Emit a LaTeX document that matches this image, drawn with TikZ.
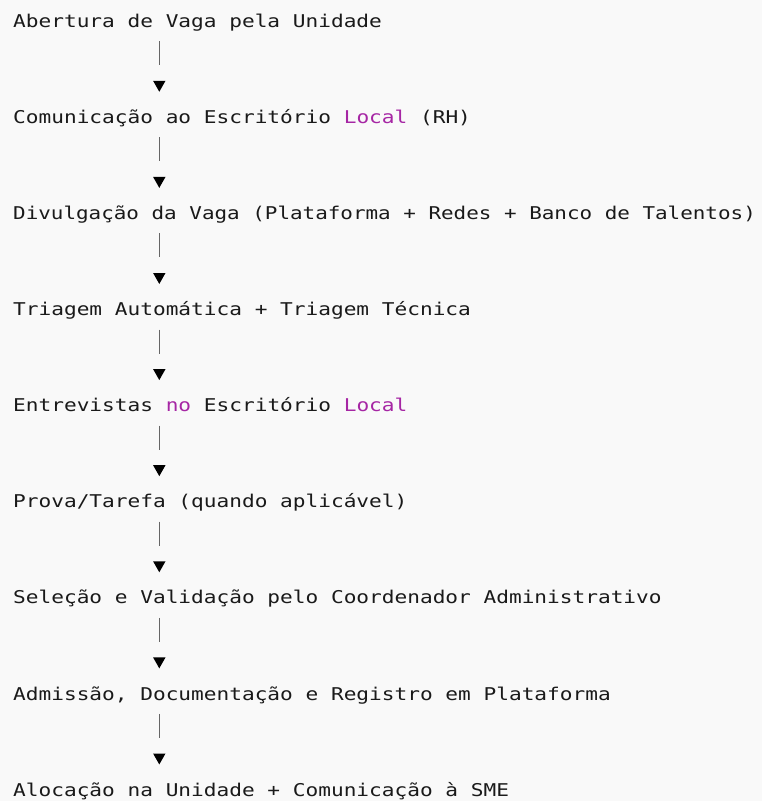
\documentclass[tikz,border=0pt]{standalone}
\usepackage{fontspec}
\usetikzlibrary{arrows.meta}

\newfontfamily\codefont[FakeStretch=1.2]{DejaVu Sans Mono}
\definecolor{codebg}{HTML}{F9F9F9}
\definecolor{codetext}{HTML}{1A1A1A}
\definecolor{codekey}{HTML}{A626A4}

\begin{document}
\begin{tikzpicture}[x = 1pt, y = -1pt,
	step text/.style = {anchor = base west, inner sep = 0pt, text height = 13.7pt, text depth = 4.3pt,
		font = \codefont\fontsize{17.6}{21}\selectfont, text = codetext},
	flow link/.style = {black!60, line width = 1.6pt, dash pattern = on 24pt off 60pt,
		shorten < = 9.4pt, shorten > = 17.7pt,
		-{Triangle[width = 12pt, length = 11pt, color = black]}}]

	% Definitions

	\def\L{13}		% Left margin of the text
	\def\D{96.1}	% Distance between two steps

	\fill [codebg] (0, 0) rectangle (762, 801);
	\useasboundingbox (0, 0) rectangle (762, 801);

	% Steps

	\node [step text] (s1) at (\L, 27.3) {Abertura de Vaga pela Unidade};
	\node [step text] (s2) at (\L, 27.3 + \D) {Comunicação ao Escritório \textcolor{codekey}{Local} (RH)};
	\node [step text] (s3) at (\L, 27.3 + 2 * \D) {\scalebox{0.99}[1]{Divulgação da Vaga (Plataforma + Redes + Banco de Talentos)}};
	\node [step text] (s4) at (\L, 27.3 + 3 * \D) {Triagem Automática + Triagem Técnica};
	\node [step text] (s5) at (\L, 27.3 + 4 * \D) {Entrevistas \textcolor{codekey}{no} Escritório \textcolor{codekey}{Local}};
	\node [step text] (s6) at (\L, 27.3 + 5 * \D) {Prova/Tarefa (quando aplicável)};
	\node [step text] (s7) at (\L, 27.3 + 6 * \D) {Seleção e Validação pelo Coordenador Administrativo};
	\node [step text] (s8) at (\L, 27.3 + 7 * \D) {Admissão, Documentação e Registro em Plataforma};
	\node [step text] (s9) at (\L, 27.3 + 8 * \D) {Alocação na Unidade + Comunicação à SME};

	% Arrows between the steps

	\coordinate (col) at (159.3, 0);

	\draw [flow link] (s1.south -| col) -- (s2.north -| col);
	\draw [flow link] (s2.south -| col) -- (s3.north -| col);
	\draw [flow link] (s3.south -| col) -- (s4.north -| col);
	\draw [flow link] (s4.south -| col) -- (s5.north -| col);
	\draw [flow link] (s5.south -| col) -- (s6.north -| col);
	\draw [flow link] (s6.south -| col) -- (s7.north -| col);
	\draw [flow link] (s7.south -| col) -- (s8.north -| col);
	\draw [flow link] (s8.south -| col) -- (s9.north -| col);

\end{tikzpicture}
\end{document}
